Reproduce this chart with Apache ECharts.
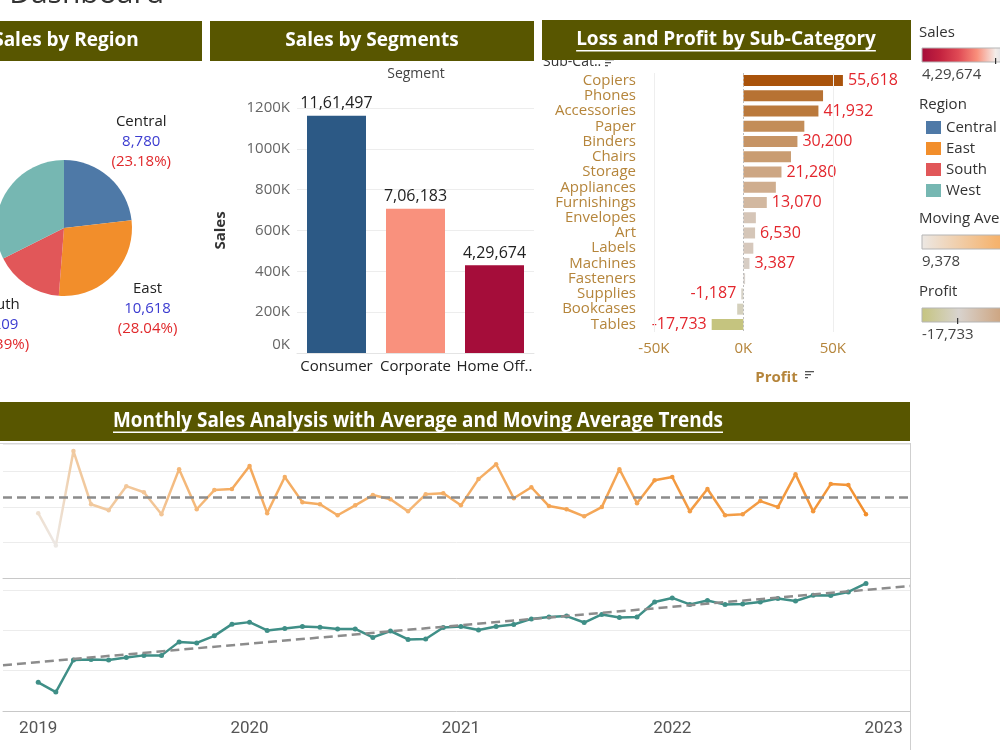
<!DOCTYPE html>
<html><head><meta charset="utf-8">
<script src="https://cdn.jsdelivr.net/npm/echarts@6/dist/echarts.min.js"></script>
<style>html,body{margin:0;padding:0;background:#fff}#c{width:1000px;height:750px}</style>
</head><body><div id="c"></div>
<script>
// ---------------- DATA ----------------
const regions = ['Central', 'East', 'South', 'West'];
const regionQty = [8780, 10618, 6209, 12266];
const regionColors = ['#4e79a7', '#f28e2b', '#e15759', '#76b7b2'];

const segments = ['Consumer', 'Corporate', 'Home Office'];
const segmentSales = [1161497, 706183, 429674];

const subCategories = ['Copiers', 'Phones', 'Accessories', 'Paper', 'Binders', 'Chairs', 'Storage', 'Appliances',
  'Furnishings', 'Envelopes', 'Art', 'Labels', 'Machines', 'Fasteners', 'Supplies', 'Bookcases', 'Tables'];
const subProfit = [55618, 44516, 41932, 34054, 30200, 26590, 21280, 18138,
  13070, 6964, 6530, 5546, 3387, 950, -1187, -3473, -17733];

const years = ['2019', '2020', '2021', '2022', '2023'];
// average sales per month, Jan 2019 .. Dec 2022
const avgSales = [183, 92, 358, 208, 191, 259, 242, 180, 307, 194, 248, 251,
  316, 183, 285, 214, 208, 177, 205, 234, 222, 188, 236, 239,
  205, 279, 321, 225, 256, 203, 194, 174, 200, 307, 211, 276,
  285, 188, 251, 177, 180, 217, 200, 293, 188, 265, 262, 180];
// moving average of sales per month, Jan 2019 .. Dec 2022
const movingAvg = [14237, 9378, 25300, 25600, 25300, 26600, 27600, 27600, 34300, 33800, 37300, 43100,
  44100, 40000, 40900, 41900, 41600, 40700, 40700, 36500, 39700, 35500, 35700, 41400,
  41900, 40200, 41900, 42900, 45700, 46700, 47100, 43900, 47900, 46400, 46600, 54100,
  56100, 52900, 54800, 52800, 53100, 54100, 55800, 54600, 57400, 57300, 59100, 63300];

// ---------------- STYLE ----------------
const OLIVE = '#585600';
const TAN = '#b5853b';
const FONT = '"Open Sans", sans-serif';
const salesColors = ['#a50d3a', '#c3223f', '#e04a55', '#f98f7b', '#f4ece8', '#b9cde0', '#7fa0c4', '#4d77a3', '#2c5985'];
const profitColors = ['#c5c47f', '#d8d3ce', '#cfab8b', '#c0864d', '#a9530b'];
const maStops = ['#ece8e4', '#f5b470', '#f28e2b'];

function fmtIN(n) {
  const s = Math.round(Math.abs(n)).toString();
  let last3 = s.slice(-3), rest = s.slice(0, -3);
  if (rest) last3 = ',' + last3;
  rest = rest.replace(/\B(?=(\d{2})+(?!\d))/g, ',');
  return (n < 0 ? '-' : '') + rest + last3;
}
function hex2rgb(h) { return [1, 3, 5].map(i => parseInt(h.substr(i, 2), 16)); }
function mix(stops, t) {
  t = Math.max(0, Math.min(1, t));
  const seg = t * (stops.length - 1), i = Math.min(Math.floor(seg), stops.length - 2), f = seg - i;
  const a = hex2rgb(stops[i]), b = hex2rgb(stops[i + 1]);
  return 'rgb(' + a.map((v, k) => Math.round(v + (b[k] - v) * f)).join(',') + ')';
}
const maMin = Math.min(...movingAvg), maMax = Math.max(...movingAvg);
const maColors = movingAvg.map(v => mix(maStops, (v - maMin) / (maMax - maMin)));

// linear trend of moving average
const n = movingAvg.length;
const mx = (n - 1) / 2, my = movingAvg.reduce((a, b) => a + b, 0) / n;
let sxy = 0, sxx = 0;
movingAvg.forEach((v, i) => { sxy += (i - mx) * (v - my); sxx += (i - mx) * (i - mx); });
const slope = sxy / sxx, icpt = my - slope * mx;
const X0 = -2, X1 = 49.5;

const mctx = document.createElement('canvas').getContext('2d');
function tw(t, f) { mctx.font = f; return mctx.measureText(t).width; }

function stopsOf(cols) { return cols.map((c, i) => ({offset: i / (cols.length - 1), color: c})); }

const G = [];
function txt(x, y, text, font, fill, align, extra) {
  G.push(Object.assign({type: 'text', x: x, y: y, silent: true,
    style: {text: text, font: font, fill: fill, align: align || 'left', verticalAlign: 'middle'}}, extra || {}));
}
function header(x0, x1, y0, y1, text, font, cx, underline, fitWidth) {
  G.push({type: 'rect', silent: true, shape: {x: x0, y: y0, width: x1 - x0, height: y1 - y0}, style: {fill: OLIVE}});
  const cy = (y0 + y1) / 2;
  let w = tw(text, font), sx = 1;
  if (fitWidth) { sx = fitWidth / w; w = fitWidth; }
  txt(cx, cy, text, font, '#ffffff', 'center', {scaleX: sx});
  if (underline) {
    G.push({type: 'rect', silent: true, shape: {x: cx - w / 2, y: cy + 10, width: w, height: 1.5}, style: {fill: '#ffffff'}});
  }
}
function sortIcon(x, y) {
  [9, 6, 3].forEach((w, k) => G.push({type: 'rect', silent: true, shape: {x: x, y: y + k * 3, width: w, height: 1.3}, style: {fill: '#555'}}));
}

// title
txt(164, -6, 'Sales Info Dashboard', '30px ' + FONT, '#333', 'right');
// sub-cat header text (partly covered by header)
txt(543, 62, 'Sub-Cat..', '14px ' + FONT, '#333', 'left');
sortIcon(605, 59);
// headers
header(-80, 202, 21, 61, 'Sales by Region', 'bold 19px ' + FONT, 66, false);
header(210, 534, 21, 61, 'Sales by Segments', 'bold 19px ' + FONT, 372, false);
header(542, 911, 20, 60, 'Loss and Profit by Sub-Category', 'bold 19px ' + FONT, 726, true);
header(-80, 910, 402, 441, 'Monthly Sales Analysis with Average and Moving Average Trends', 'bold 21px ' + FONT, 418, true, 610);
// border of the monthly panel
G.push({type: 'line', silent: true, shape: {x1: 910.5, y1: 443, x2: 910.5, y2: 750}, style: {stroke: '#cfcfcf', lineWidth: 1}});
G.push({type: 'line', silent: true, shape: {x1: 0, y1: 443.5, x2: 910, y2: 443.5}, style: {stroke: '#d6d6d6', lineWidth: 1}});
// segment label
txt(416, 74, 'Segment', '14px ' + FONT, '#444', 'center');
// profit sort icon
sortIcon(805, 371);

// legends (right)
const LX = 922, LW = 147;
function gradLegend(title, ty, gy, cols, minText, tickT) {
  txt(919, ty, title, '15px ' + FONT, '#333', 'left');
  G.push({type: 'rect', silent: true, shape: {x: LX, y: gy, width: LW, height: 14},
    style: {fill: new echarts.graphic.LinearGradient(0, 0, 1, 0, stopsOf(cols)), stroke: '#b5b5b5', lineWidth: 1}});
  if (tickT != null) {
    G.push({type: 'rect', silent: true, shape: {x: LX + LW * tickT - 0.5, y: gy + 10, width: 1.2, height: 6}, style: {fill: '#333'}});
  }
  txt(922, gy + 27, minText, '15px ' + FONT, '#444', 'left');
}
const sMin = Math.min(...segmentSales), sMax = Math.max(...segmentSales);
const pMin = Math.min(...subProfit), pMax = Math.max(...subProfit);
gradLegend('Sales', 33, 48, salesColors, fmtIN(sMin), 0.5);
txt(919, 105, 'Region', '15px ' + FONT, '#333', 'left');
gradLegend('Moving Average', 219, 235, maStops, fmtIN(maMin), null);
gradLegend('Profit', 292, 308, profitColors, fmtIN(pMin), (0 - pMin) / (pMax - pMin));

function trunc(s) { return s.length > 9 ? s.slice(0, 8) + '..' : s; }

const chart = echarts.init(document.getElementById('c'), null, {renderer: 'canvas'});
chart.setOption({
  animation: false,
  textStyle: {fontFamily: FONT},
  grid: [
    {left: 297, top: 108, width: 237, height: 245},
    {left: 645, top: 73, width: 263, height: 259},
    {left: 3, top: 444, width: 907, height: 134},
    {left: 3, top: 578, width: 907, height: 133}
  ],
  xAxis: [
    {gridIndex: 0, type: 'category', data: segments, axisTick: {show: false},
      axisLine: {lineStyle: {color: '#e4e4e4'}},
      axisLabel: {color: '#222', fontSize: 15, margin: 6, interval: 0, formatter: trunc}},
    {gridIndex: 1, type: 'value', min: -55000, max: 92000, interval: 5000,
      splitLine: {show: false}, axisLine: {show: false}, axisTick: {show: false},
      axisLabel: {color: TAN, fontSize: 15, margin: 9, formatter: v => (v % 50000 === 0 ? (v / 1000) + 'K' : '')},
      name: 'Profit', nameLocation: 'middle', nameGap: 38,
      nameTextStyle: {color: TAN, fontWeight: 'bold', fontSize: 15}},
    {gridIndex: 2, type: 'value', min: X0, max: X1, interval: 1, splitLine: {show: false},
      axisTick: {show: false}, axisLabel: {show: false}, axisLine: {lineStyle: {color: '#c8c8c8'}}},
    {gridIndex: 3, type: 'value', min: X0, max: X1, interval: 1, splitLine: {show: false},
      axisTick: {show: false}, axisLine: {lineStyle: {color: '#c8c8c8'}},
      axisLabel: {color: '#555', fontFamily: 'Roboto, sans-serif', fontSize: 17, margin: 9,
        formatter: v => (v >= 0 && v % 12 === 0 ? years[v / 12] : '')}}
  ],
  yAxis: [
    {gridIndex: 0, type: 'value', min: 0, max: 1200000, interval: 200000,
      axisLine: {show: false}, axisTick: {show: false},
      splitLine: {lineStyle: {color: '#ededed'}},
      axisLabel: {color: '#666', fontSize: 15, margin: 7,
        formatter: v => (v === 0 ? '{z|0K}' : (v / 1000) + 'K'),
        rich: {z: {color: '#666', fontSize: 15, padding: [0, 0, 16, 0]}}},
      name: 'Sales', nameLocation: 'middle', nameGap: 69, nameRotate: 90,
      nameTextStyle: {color: '#333', fontWeight: 'bold', fontSize: 15}},
    {gridIndex: 1, type: 'category', data: subCategories, inverse: true,
      axisLine: {show: false}, axisTick: {show: false},
      axisLabel: {color: TAN, fontSize: 15, margin: 9, interval: 0}},
    {gridIndex: 2, type: 'value', min: 0, max: 378, interval: 100, axisLabel: {show: false},
      axisLine: {show: false}, axisTick: {show: false}, splitLine: {lineStyle: {color: '#ececec'}}},
    {gridIndex: 3, type: 'value', min: 0, max: 66000, interval: 20000, axisLabel: {show: false},
      axisLine: {show: false}, axisTick: {show: false}, splitLine: {lineStyle: {color: '#ececec'}}}
  ],
  legend: {data: regions, orient: 'vertical', left: 921, top: 115, itemWidth: 15, itemHeight: 13,
    itemGap: 6, icon: 'rect', selectedMode: false,
    textStyle: {fontSize: 15, color: '#333', fontFamily: FONT}},
  visualMap: [
    {type: 'continuous', show: false, seriesIndex: 1, dimension: 1, min: sMin, max: sMax, inRange: {color: salesColors}},
    {type: 'continuous', show: false, seriesIndex: 2, dimension: 0, min: pMin, max: pMax, inRange: {color: profitColors}},
    {type: 'continuous', show: false, seriesIndex: 3, dimension: 0, min: 0, max: n - 1, inRange: {color: maColors}}
  ],
  series: [
    {type: 'pie', left: -200, top: 0, width: 500, height: 460, center: [264, 228], radius: 68,
      startAngle: 90, clockwise: true, avoidLabelOverlap: false, silent: true,
      data: regions.map((r, i) => ({name: r, value: regionQty[i], itemStyle: {color: regionColors[i]}})),
      label: {position: 'outside', distanceToLabelLine: 0,
        formatter: p => '{n|' + p.name + '}\n{v|' + fmtIN(p.value) + '}\n{p|(' + p.percent.toFixed(2) + '%)}',
        rich: {
          n: {color: '#222', fontSize: 15, lineHeight: 20, align: 'center'},
          v: {color: '#3b3bd0', fontSize: 15, lineHeight: 20, align: 'center'},
          p: {color: '#e0282b', fontSize: 15, lineHeight: 20, align: 'center'}
        }},
      labelLine: {show: false, length: 48, length2: 0},
      labelLayout: () => ({align: 'center'})
    },
    {type: 'bar', xAxisIndex: 0, yAxisIndex: 0, barWidth: 59, silent: true,
      data: segments.map((s, i) => [s, segmentSales[i]]),
      label: {show: true, position: 'top', distance: 4, color: '#222', fontSize: 16,
        formatter: p => fmtIN(p.value[1])}},
    {type: 'bar', xAxisIndex: 1, yAxisIndex: 1, barWidth: 11, silent: true,
      data: subCategories.map((c, i) => ({value: [subProfit[i], c],
        label: {show: i % 2 === 0, position: subProfit[i] < 0 ? 'left' : 'right'}})),
      label: {color: '#e3262d', fontSize: 16, distance: 5, formatter: p => fmtIN(p.value[0])},
      markLine: {silent: true, symbol: 'none', label: {show: false}, animation: false,
        data: [
          {xAxis: -50000, lineStyle: {color: '#eeeeee', type: 'solid', width: 1}},
          {xAxis: 0, lineStyle: {color: '#bdbdbd', type: [2, 2], width: 1}},
          {xAxis: 50000, lineStyle: {color: '#eeeeee', type: 'solid', width: 1}}
        ]}},
    {type: 'line', xAxisIndex: 2, yAxisIndex: 2, silent: true,
      data: avgSales.map((v, i) => [i, v]), symbol: 'circle', symbolSize: 4.5,
      lineStyle: {width: 2.5},
      markLine: {silent: true, symbol: 'none', label: {show: false}, animation: false,
        lineStyle: {color: '#8c8c8c', type: [9, 5], width: 2.5},
        data: [{type: 'average', valueIndex: 1}]}},
    {type: 'line', xAxisIndex: 3, yAxisIndex: 3, silent: true,
      data: movingAvg.map((v, i) => [i, v]), symbol: 'circle', symbolSize: 5,
      itemStyle: {color: '#3f8f87'}, lineStyle: {width: 2.5, color: '#3f8f87'},
      markLine: {silent: true, symbol: 'none', label: {show: false}, animation: false,
        lineStyle: {color: '#8c8c8c', type: [9, 5], width: 2.5},
        data: [[{coord: [X0, icpt + slope * X0]}, {coord: [X1, icpt + slope * X1]}]]}}
  ],
  graphic: {elements: G}
});
</script></body></html>
